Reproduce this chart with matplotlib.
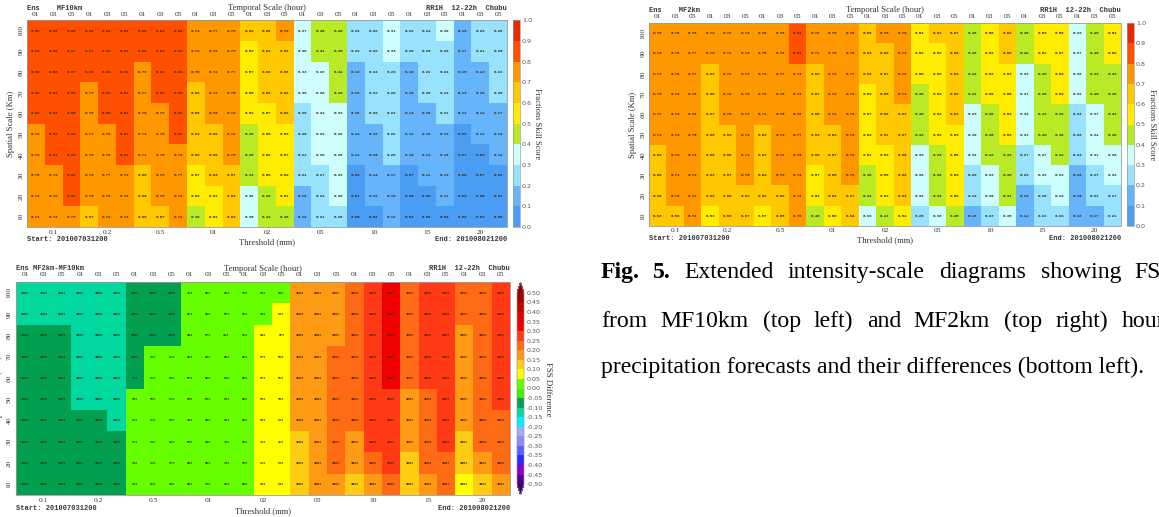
#!/usr/bin/env python3
"""Extended intensity-scale diagrams of FSS, three panels plus caption."""

import matplotlib
matplotlib.use('Agg')
import matplotlib.pyplot as plt
import numpy as np
from matplotlib.colors import BoundaryNorm, ListedColormap

W, H = 1159, 517

SCALES = [100, 90, 80, 70, 60, 50, 40, 30, 20, 10]
HOURS = ['01', '03', '05']
THRESHOLDS = ['0.1', '0.2', '0.5', '01', '02', '05', '10', '15', '20']

# FSS, rows run from spatial scale 100 down to 10
FSS_10KM = [
    [.86, .86, .88, .82, .84, .84, .85, .84, .84, .74, .77, .79, .62, .66, .70, .37, .45, .48, .23, .28, .31, .22, .24, .30, .18, .23, .28],
    [.84, .86, .87, .81, .83, .83, .80, .83, .83, .72, .76, .79, .59, .64, .68, .36, .41, .45, .22, .28, .33, .20, .25, .28, .17, .21, .25],
    [.83, .86, .87, .80, .82, .84, .79, .81, .84, .70, .74, .77, .57, .62, .66, .33, .39, .44, .19, .24, .29, .19, .22, .24, .16, .19, .23],
    [.82, .84, .86, .79, .81, .83, .77, .81, .83, .68, .72, .75, .55, .60, .64, .30, .36, .42, .18, .22, .26, .18, .20, .24, .13, .16, .20],
    [.81, .83, .85, .78, .80, .83, .76, .79, .82, .66, .70, .74, .52, .57, .62, .28, .34, .39, .16, .20, .24, .14, .18, .21, .11, .14, .17],
    [.79, .82, .84, .77, .78, .81, .74, .78, .81, .63, .68, .72, .48, .55, .59, .26, .32, .38, .14, .18, .22, .12, .16, .19, .09, .11, .14],
    [.79, .81, .83, .76, .78, .81, .71, .76, .79, .60, .66, .70, .46, .52, .57, .23, .30, .36, .11, .15, .20, .10, .13, .16, .07, .09, .12],
    [.76, .79, .82, .73, .77, .79, .68, .73, .77, .57, .63, .67, .43, .50, .54, .21, .27, .33, .09, .14, .17, .07, .11, .13, .06, .07, .09],
    [.74, .78, .82, .70, .75, .78, .65, .70, .74, .53, .59, .64, .38, .46, .51, .18, .24, .30, .07, .12, .15, .05, .08, .11, .03, .05, .07],
    [.71, .74, .79, .67, .72, .74, .60, .67, .72, .48, .54, .63, .35, .42, .48, .14, .21, .26, .05, .09, .12, .04, .06, .09, .02, .03, .05],
]
FSS_2KM = [
    [.76, .76, .78, .72, .72, .74, .76, .78, .81, .72, .76, .78, .66, .70, .76, .54, .61, .67, .46, .56, .62, .45, .53, .58, .39, .48, .54],
    [.74, .76, .77, .70, .72, .74, .75, .78, .81, .71, .76, .78, .64, .69, .73, .52, .59, .65, .46, .54, .60, .42, .51, .57, .37, .46, .52],
    [.73, .76, .77, .69, .72, .73, .73, .77, .79, .69, .74, .77, .62, .67, .72, .50, .59, .64, .44, .52, .59, .39, .48, .54, .36, .43, .49],
    [.75, .74, .76, .68, .72, .73, .72, .76, .79, .67, .72, .74, .59, .65, .71, .48, .54, .62, .41, .50, .56, .37, .46, .52, .32, .40, .46],
    [.72, .74, .76, .67, .70, .73, .71, .75, .78, .65, .71, .73, .57, .66, .69, .45, .54, .63, .39, .48, .54, .34, .43, .49, .29, .37, .43],
    [.71, .73, .75, .66, .69, .71, .69, .73, .77, .63, .69, .73, .54, .61, .67, .42, .52, .59, .36, .45, .52, .31, .40, .46, .26, .34, .40],
    [.69, .72, .74, .66, .68, .71, .67, .72, .75, .60, .67, .72, .51, .59, .66, .39, .49, .56, .32, .42, .49, .27, .37, .43, .23, .31, .36],
    [.66, .71, .73, .63, .67, .70, .64, .70, .74, .57, .65, .70, .48, .56, .62, .36, .46, .53, .28, .39, .45, .23, .33, .39, .18, .27, .32],
    [.66, .70, .72, .62, .66, .69, .62, .68, .72, .53, .62, .67, .44, .53, .63, .32, .43, .50, .24, .35, .41, .19, .28, .34, .15, .22, .27],
    [.63, .68, .72, .59, .66, .67, .57, .65, .70, .48, .58, .64, .39, .49, .54, .26, .38, .45, .18, .29, .35, .14, .23, .29, .10, .17, .21],
]
# FSS difference, estimated from the colour of each cell
FSS_DIFF = [
    [-.12, -.12, -.12, -.12, -.12, -.12, -.08, -.08, -.08, .02, .02, .02, .02, .02, .02, .17, .17, .17, .22, .27, .32, .22, .27, .27, .22, .22, .27],
    [-.12, -.12, -.12, -.12, -.12, -.12, -.08, -.08, -.08, .02, .02, .02, .02, .02, .07, .17, .17, .17, .22, .27, .32, .22, .27, .27, .22, .22, .27],
    [-.08, -.08, -.08, -.12, -.12, -.12, -.08, -.08, -.08, .02, .02, .02, .02, .07, .07, .17, .17, .17, .22, .27, .32, .22, .27, .27, .17, .22, .27],
    [-.08, -.08, -.08, -.12, -.12, -.12, -.08, .02, .02, .02, .02, .02, .02, .07, .07, .17, .17, .22, .22, .27, .32, .22, .27, .27, .17, .22, .27],
    [-.08, -.08, -.08, -.12, -.12, -.12, -.08, .02, .02, .02, .02, .02, .02, .07, .07, .17, .17, .22, .22, .27, .32, .22, .27, .27, .17, .22, .27],
    [-.08, -.08, -.08, -.12, -.12, -.12, .02, .02, .02, .02, .02, .02, .02, .07, .07, .17, .17, .22, .22, .27, .27, .17, .22, .27, .17, .22, .27],
    [-.08, -.08, -.08, -.08, -.08, -.12, .02, .02, .02, .02, .02, .02, .02, .07, .07, .17, .17, .22, .22, .27, .27, .17, .22, .27, .17, .22, .22],
    [-.08, -.08, -.08, -.08, -.08, -.08, .02, .02, .02, .02, .02, .02, .02, .07, .07, .12, .17, .22, .17, .27, .27, .17, .22, .27, .12, .22, .22],
    [-.08, -.08, -.08, -.08, -.08, -.08, .02, .02, .02, .02, .02, .02, .02, .07, .07, .12, .17, .22, .17, .22, .27, .12, .22, .22, .12, .17, .22],
    [-.08, -.08, -.08, -.08, -.08, -.08, .02, .02, .02, .02, .02, .02, .02, .07, .07, .12, .17, .17, .12, .17, .22, .12, .17, .22, .07, .12, .17],
]
# significance percentages printed in the difference panel, columns 6 to 14
# (everything else in that panel reads 100%)
PCT_MID = [
    [100, 100, 100, 71, 69, 82, 79, 83, 84],
    [100, 100, 100, 67, 61, 57, 81, 85, 86],
    [100, 100, 100, 64, 57, 48, 81, 64, 67],
    [100, 99, 99, 61, 68, 52, 82, 87, 89],
    [99, 99, 98, 57, 52, 56, 82, 87, 89],
    [98, 98, 97, 53, 56, 85, 82, 89, 90],
    [99, 97, 95, 45, 65, 84, 82, 89, 91],
    [97, 94, 92, 53, 64, 75, 83, 94, 92],
    [94, 91, 87, 52, 63, 76, 83, 91, 93],
    [94, 87, 81, 52, 73, 81, 82, 92, 94],
]

FSS_LEVELS = [0.0, 0.1, 0.2, 0.3, 0.4, 0.5, 0.6, 0.7, 0.8, 0.9, 1.0]
FSS_COLORS = ['#4a9df2', '#66b5fb', '#99e2fd', '#ceffff', '#b9ea26',
              '#ffec00', '#ffc800', '#ff9800', '#ff5000', '#e62a00']
DIFF_LEVELS = [round(-0.5 + 0.05 * i, 2) for i in range(21)]
DIFF_COLORS = ['#50008c', '#8a00c8', '#2a2aff', '#5f5fff', '#8a8aff', '#a8a8ec',
               '#00f0ff', '#00d8a0', '#00a050', '#44ee00', '#66ff00', '#ffff00',
               '#ffcc14', '#ff9a14', '#ff6a14', '#ff3a14', '#f00000', '#e00000',
               '#c00000', '#a00000']

SERIF = 'Liberation Serif'
MONO = 'Liberation Mono'

fig = plt.figure(figsize=(W / 100, H / 100), dpi=100)


def px_axes(left, top, right, bottom):
    return fig.add_axes([left / W, 1 - bottom / H, (right - left) / W, (bottom - top) / H])


def px_text(x, y, s, **kw):
    kw.setdefault('va', 'center')
    kw.setdefault('color', '#333333')
    return fig.text(x / W, 1 - y / H, s, **kw)


def draw_panel(values, labels, cmap, norm, box, cbar_box, extend, cbar_ticks, cbar_fmt, cbar_title, pos):
    left, top, right, bottom = box
    ax = px_axes(left, top, right, bottom)
    values = np.array(values)
    ncol = values.shape[1]
    mesh = ax.pcolormesh(np.arange(ncol + 1), np.arange(len(SCALES) + 1), values[::-1],
                         cmap=cmap, norm=norm)
    for r, row in enumerate(labels):
        for c, s in enumerate(row):
            ax.text(c + 0.5, len(SCALES) - r - 0.5, s, ha='center', va='center',
                    fontsize=pos['cell'], color='#3a2a10', family=MONO, fontweight='bold')
    ax.set_xticks([])
    ax.set_yticks([])
    for sp in ax.spines.values():
        sp.set_color('#9a9a9a')
        sp.set_linewidth(0.6)

    cw = (right - left) / ncol
    rh = (bottom - top) / len(SCALES)
    # hour labels along the top, threshold groups along the bottom
    for c in range(ncol):
        px_text(left + (c + 0.5) * cw, pos['hour_y'], HOURS[c % 3], ha='center',
                fontsize=5.4, family=SERIF)
    for i, thr in enumerate(THRESHOLDS):
        px_text(left + (3 * i + 1.5) * cw, pos['thr_y'], thr, ha='center',
                fontsize=5.4, family=SERIF)
    for r, s in enumerate(SCALES):
        px_text(pos['tick_x'], top + (r + 0.5) * rh, str(s), ha='center', rotation=90,
                fontsize=5.4, family=SERIF)
    px_text(pos['ylab_x'], (top + bottom) / 2, 'Spatial Scale (Km)', ha='center', rotation=90,
            fontsize=6.2, family=SERIF)

    px_text(left, pos['head_y'], pos['head'], ha='left', fontsize=5, family=MONO, fontweight='bold')
    px_text(pos['temporal_x'], pos['temporal_y'], 'Temporal Scale (hour)', ha='center',
            fontsize=6.2, family=SERIF)
    px_text(right, pos['head_y'], 'RR1H  12-22h  Chubu', ha='right', fontsize=5, family=MONO,
            fontweight='bold')
    px_text(left, pos['start_y'], 'Start: 201007031200', ha='left', fontsize=5, family=MONO,
            fontweight='bold')
    px_text(right, pos['start_y'], 'End: 201008021200', ha='right', fontsize=5, family=MONO,
            fontweight='bold')
    px_text(pos['xlab_x'], pos['xlab_y'], 'Threshold (mm)', ha='center', fontsize=6.2, family=SERIF)

    cax = px_axes(*cbar_box)
    kw = dict(extendfrac=0.057) if extend != 'neither' else {}
    cb = fig.colorbar(mesh, cax=cax, extend=extend, ticks=cbar_ticks, spacing='proportional', **kw)
    cb.ax.set_yticklabels([cbar_fmt % t for t in cbar_ticks])
    cb.ax.tick_params(length=0, pad=pos['cb_pad'], labelsize=pos['cb_size'], labelcolor='#555555')
    cb.outline.set_edgecolor('#9a9a9a')
    cb.outline.set_linewidth(0.5)
    px_text(pos['cb_lab_x'], pos['cb_lab_y'], cbar_title, ha='center', rotation=270,
            fontsize=pos['cb_lab_size'], family=SERIF)


fss_cmap = ListedColormap(FSS_COLORS)
fss_norm = BoundaryNorm(FSS_LEVELS, fss_cmap.N)
diff_cmap = ListedColormap(DIFF_COLORS).with_extremes(under='#3c0070', over='#8a0000')
diff_norm = BoundaryNorm(DIFF_LEVELS, diff_cmap.N)

labels_10 = [['%.2f' % v for v in row] for row in FSS_10KM]
labels_2 = [['%.2f' % v for v in row] for row in FSS_2KM]
labels_diff = [['100%'] * 6 + ['%d%%' % v for v in mid] + ['100%'] * 12 for mid in PCT_MID]

draw_panel(FSS_10KM, labels_10, fss_cmap, fss_norm, (27, 20.5, 507, 227), (513, 20.5, 520, 227),
           'neither', FSS_LEVELS, '%.1f', 'Fractions Skill Score',
           dict(cell=2.9, hour_y=15, thr_y=233, tick_x=21, ylab_x=11, head='Ens    MF10km', head_y=8,
                temporal_x=267, temporal_y=7.5, start_y=240, xlab_x=267, xlab_y=242,
                cb_size=4.6, cb_pad=1.5, cb_lab_x=537, cb_lab_y=124, cb_lab_size=6))
draw_panel(FSS_2KM, labels_2, fss_cmap, fss_norm, (649, 23, 1121, 226), (1127, 23, 1134, 226),
           'neither', FSS_LEVELS, '%.1f', 'Fractions Skill Score',
           dict(cell=2.9, hour_y=17, thr_y=231, tick_x=643, ylab_x=633, head='Ens    MF2km', head_y=11,
                temporal_x=885, temporal_y=10, start_y=238.5, xlab_x=885, xlab_y=240,
                cb_size=4.6, cb_pad=1.5, cb_lab_x=1152, cb_lab_y=125, cb_lab_size=6))
draw_panel(FSS_DIFF, labels_diff, diff_cmap, diff_norm, (16, 282, 510, 495), (517, 282, 524, 495),
           'both', DIFF_LEVELS, '%.2f', 'FSS Difference',
           dict(cell=2.4, hour_y=275, thr_y=501, tick_x=9, ylab_x=-1, head='Ens MF2km-MF10km', head_y=269,
                temporal_x=263, temporal_y=269, start_y=508, xlab_x=263, xlab_y=511,
                cb_size=4.6, cb_pad=2, cb_lab_x=548, cb_lab_y=389, cb_lab_size=6.3))

# caption, first two lines are justified so words are placed one by one
CAPTION_1 = [('Fig.', 601, 'bold'), ('5.', 653, 'bold'), ('Extended', 684, 'normal'),
             ('intensity-scale', 787, 'normal'), ('diagrams', 939, 'normal'),
             ('showing', 1041, 'normal'), ('FSS', 1134, 'normal')]
CAPTION_2 = ['from', 'MF10km', '(top', 'left)', 'and', 'MF2km', '(top', 'right)', 'hourly']
CAPTION_2_X = [601, 660, 763, 813, 867, 913, 1004, 1056, 1122]
CAPTION_3 = 'precipitation forecasts and their differences (bottom left).'

for word, x, weight in CAPTION_1:
    px_text(x, 278, word, va='baseline', color='black', fontsize=17.1, family=SERIF, fontweight=weight)
for word, x in zip(CAPTION_2, CAPTION_2_X):
    px_text(x, 327, word, va='baseline', color='black', fontsize=17.1, family=SERIF)
px_text(601, 373, CAPTION_3, va='baseline', color='black', fontsize=17.1, family=SERIF)

fig.savefig('out.png', dpi=100)
